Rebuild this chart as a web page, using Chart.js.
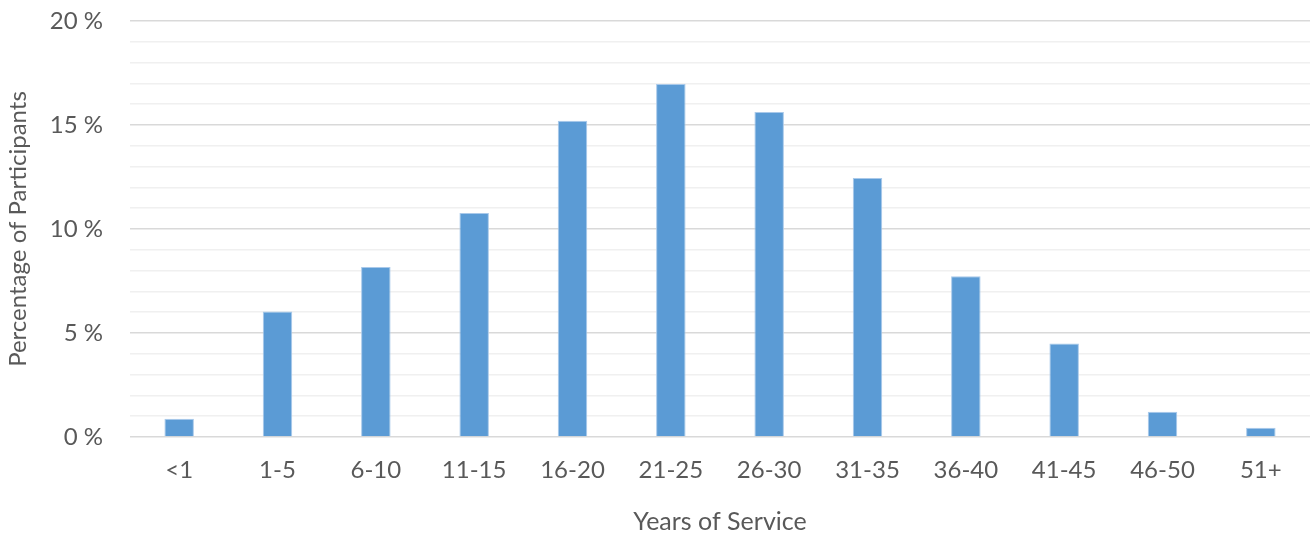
<!DOCTYPE html>
<html>
<head>
<meta charset="utf-8">
<script src="https://cdn.jsdelivr.net/npm/chart.js@4"></script>
<style>
  html, body { margin: 0; padding: 0; background: #fff; }
  #wrap { width: 1313px; height: 537px; }
</style>
</head>
<body>
<div id="wrap"><canvas id="serviceChart"></canvas></div>
<script>
// Years of service buckets and share of participants in each (%)
const categories = ['<1', '1-5', '6-10', '11-15', '16-20', '21-25', '26-30', '31-35', '36-40', '41-45', '46-50', '51+'];
const participants = [0.88, 6.03, 8.17, 10.77, 15.2, 16.97, 15.63, 12.45, 7.73, 4.49, 1.21, 0.45];
const yTicks = [0, 5, 10, 15, 20];

const textColor = '#595959';
const fontFamily = "Lato, 'Liberation Sans', sans-serif";

let ctx = document.getElementById('serviceChart').getContext('2d');

const data = {
  labels: categories,
  datasets: [{
    label: 'Percentage of Participants',
    data: participants,
    backgroundColor: '#5b9bd5',
    borderColor: '#a9c9ea',
    borderWidth: { left: 1, right: 1, top: 1, bottom: 0 },
    barPercentage: 0.5,
    categoryPercentage: 0.6
  }]
};

const config = {
  type: 'bar',
  data: data,
  options: {
    responsive: true,
    maintainAspectRatio: false,
    animation: false,
    layout: { autoPadding: false, padding: { top: 21, right: 3, bottom: 0, left: 0 } },
    plugins: {
      legend: { display: false },
      tooltip: { enabled: false }
    },
    scales: {
      x: {
        grid: { display: false, drawTicks: false },
        border: { display: false },
        afterFit: scale => { scale.height = 100; },
        ticks: {
          color: textColor,
          font: { family: fontFamily, size: 24 },
          padding: 19
        },
        title: {
          display: true,
          text: 'Years of Service',
          color: textColor,
          font: { family: fontFamily, size: 25 },
          padding: { top: 10, bottom: 0 }
        }
      },
      y: {
        min: 0,
        max: 20,
        afterBuildTicks: axis => {
          axis.ticks = [];
          for (let v = 0; v <= 20; v++) axis.ticks.push({ value: v });
        },
        // fixed axis width; the tick padding should not push the plot top down
        afterFit: scale => {
          scale.width = 130;
          scale.paddingTop = 0;
          scale.paddingBottom = 0;
        },
        grid: {
          drawTicks: false,
          lineWidth: 1.5,
          color: c => (yTicks.includes(c.tick.value) ? '#d9d9d9' : '#f0f0f0')
        },
        border: { display: false },
        ticks: {
          autoSkip: false,
          color: textColor,
          font: { family: fontFamily, size: 24 },
          padding: 27,
          callback: v => (yTicks.includes(v) ? v + ' %' : '')
        },
        title: {
          display: true,
          text: 'Percentage of Participants',
          color: textColor,
          font: { family: fontFamily, size: 24 },
          padding: { top: 4, bottom: 0 }
        }
      }
    }
  }
};

let barChart = new Chart(ctx, config);
</script>
</body>
</html>
